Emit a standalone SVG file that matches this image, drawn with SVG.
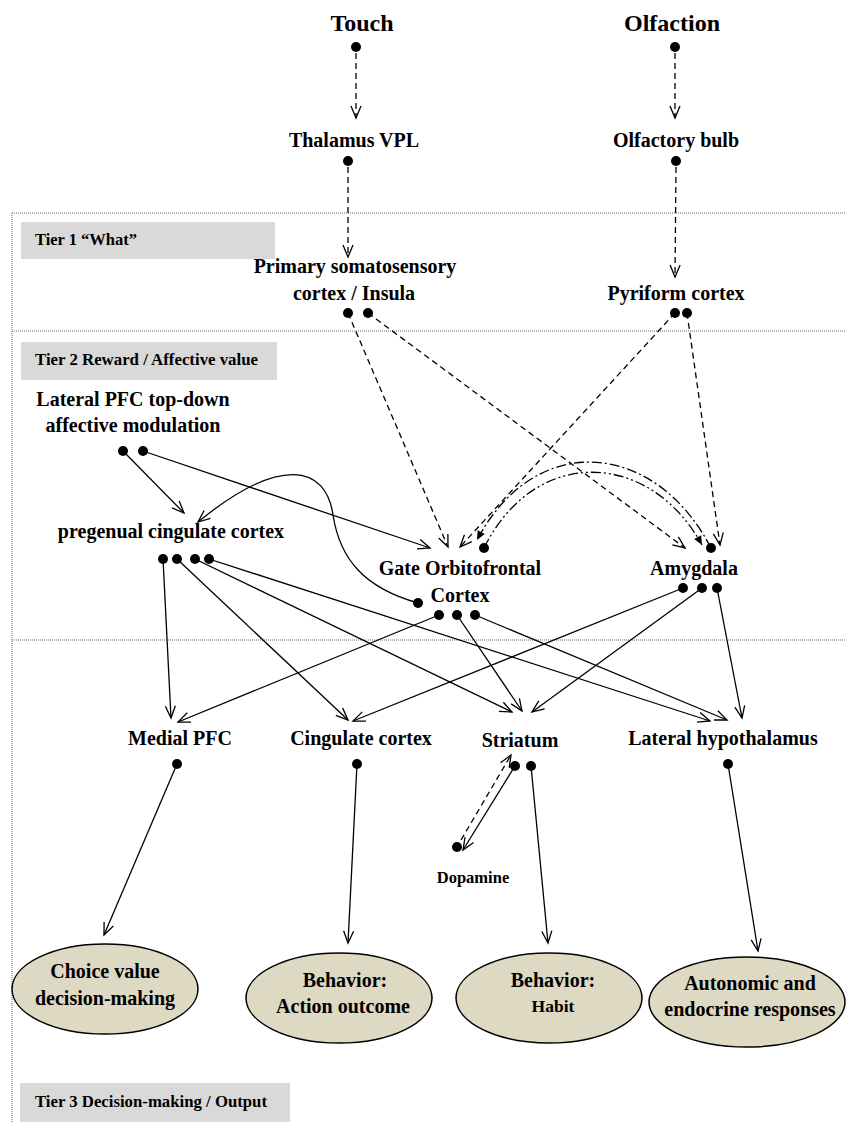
<svg xmlns="http://www.w3.org/2000/svg" width="846" height="1122" viewBox="0 0 846 1122">
<style>
text{font-family:"Liberation Serif","Times New Roman",serif;font-weight:bold;fill:#000;text-anchor:middle}
.lbl{font-size:20px}
.big{font-size:24px}
.tier{font-size:16px;text-anchor:start}
.tbox{fill:#d9d9d9}
.sep{stroke:#666;stroke-width:1;stroke-dasharray:1,1;fill:none}
.dot{fill:#000}
.c{fill:none;stroke:#000;stroke-width:1.3}
.s{marker-end:url(#open)}
.d{stroke-dasharray:6,4;marker-end:url(#open)}
.dd{stroke-dasharray:10,3,2,3;marker-end:url(#fill)}
.ddd{stroke-dasharray:10,3,2,3,2,3;marker-end:url(#fill)}
.ell{fill:#ddd9c3;stroke:#000;stroke-width:1.5}
</style>
<defs>
<marker id="open" viewBox="-14 -7 16 14" refX="0" refY="0" markerWidth="16" markerHeight="14" markerUnits="userSpaceOnUse" orient="auto">
<path d="M-12,-5 L0,0 L-12,5" fill="none" stroke="#000" stroke-width="1.3"/>
</marker>
<marker id="fill" viewBox="-10 -5 12 10" refX="0" refY="0" markerWidth="12" markerHeight="10" markerUnits="userSpaceOnUse" orient="auto">
<path d="M-9,-4 L0,0 L-9,4 z" fill="#000"/>
</marker>
</defs>
<rect width="846" height="1122" fill="#fff"/>

<g id="frame">
<line class="sep" x1="12" y1="213" x2="12" y2="1122"/>
<line class="sep" x1="12" y1="213" x2="846" y2="213"/>
<line class="sep" x1="12" y1="331" x2="846" y2="331"/>
<line class="sep" x1="12" y1="640" x2="846" y2="640"/>
</g>

<g id="tier1"><rect class="tbox" x="21" y="222" width="254" height="37"/><text class="tier" x="35" y="245" textLength="102" lengthAdjust="spacingAndGlyphs">Tier 1 “What”</text></g>
<g id="tier2"><rect class="tbox" x="21" y="342" width="256" height="38"/><text class="tier" x="35" y="365" textLength="223" lengthAdjust="spacingAndGlyphs">Tier 2  Reward / Affective value</text></g>
<g id="tier3"><rect class="tbox" x="20" y="1083" width="270" height="39"/><text class="tier" x="35" y="1107" textLength="232" lengthAdjust="spacingAndGlyphs">Tier 3  Decision-making / Output</text></g>

<g id="connectors">
<path class="c d" d="M356,53 L356,118"/>
<path class="c d" d="M675,53 L675,118"/>
<path class="c d" d="M348,167 L348,257"/>
<path class="c d" d="M676,167 L675,277"/>
<path class="c d" d="M348,313 L448,547"/>
<path class="c d" d="M368,313 L685,548"/>
<path class="c d" d="M675,313 L460,547"/>
<path class="c d" d="M687,313 L720,545"/>
<path class="c d" d="M461,840 L511,755"/>
<path class="c dd" d="M711,548 C655,440 535,430 477,540"/>
<path class="c ddd" d="M484,548 C535,445 650,450 702,545"/>
<path class="c s" d="M123,451 L184,513"/>
<path class="c s" d="M143,451 L430,548"/>
<path class="c s" d="M418,603 C365,588 340,560 333,515 C326,465 280,455 198,522"/>
<path class="c s" d="M163,559 L171,718"/>
<path class="c s" d="M177,559 L348,720"/>
<path class="c s" d="M195,559 L512,712"/>
<path class="c s" d="M209,559 L710,721"/>
<path class="c s" d="M439,615 L178,722"/>
<path class="c s" d="M457,615 L522,711"/>
<path class="c s" d="M475,615 L727,720"/>
<path class="c s" d="M683,588 L353,721"/>
<path class="c s" d="M702,588 L532,712"/>
<path class="c s" d="M717,588 L742,718"/>
<path class="c s" d="M515,766 L463,850"/>
<path class="c s" d="M177,764 L104,935"/>
<path class="c s" d="M357,764 L348,943"/>
<path class="c s" d="M531,766 L548,943"/>
<path class="c s" d="M728,764 L758,951"/>
</g>

<g id="touch"><text class="big" x="362" y="31">Touch</text><circle class="dot" cx="356" cy="47" r="5"/></g>
<g id="olfaction"><text class="big" x="672" y="31">Olfaction</text><circle class="dot" cx="675" cy="47" r="5"/></g>
<g id="thalamus"><text class="lbl" x="354" y="147">Thalamus VPL</text><circle class="dot" cx="348" cy="161" r="5"/></g>
<g id="olfbulb"><text class="lbl" x="676" y="147">Olfactory bulb</text><circle class="dot" cx="676" cy="161" r="5"/></g>
<g id="somato"><text class="lbl" x="355" y="273">Primary somatosensory</text><text class="lbl" x="354" y="300">cortex / Insula</text><circle class="dot" cx="348" cy="313" r="5"/><circle class="dot" cx="368" cy="313" r="5"/></g>
<g id="pyriform"><text class="lbl" x="676" y="300">Pyriform cortex</text><circle class="dot" cx="675" cy="313" r="5"/><circle class="dot" cx="687" cy="313" r="5"/></g>
<g id="lpfc"><text class="lbl" x="133" y="406">Lateral PFC top-down</text><text class="lbl" x="133" y="432">affective modulation</text><circle class="dot" cx="123" cy="451" r="5"/><circle class="dot" cx="143" cy="451" r="5"/></g>
<g id="pregenual"><text class="lbl" x="171" y="538">pregenual cingulate cortex</text><circle class="dot" cx="163" cy="559" r="5"/><circle class="dot" cx="177" cy="559" r="5"/><circle class="dot" cx="195" cy="559" r="5"/><circle class="dot" cx="209" cy="559" r="5"/></g>
<g id="ofc"><text class="lbl" x="460" y="575">Gate Orbitofrontal</text><text class="lbl" x="460" y="602">Cortex</text><circle class="dot" cx="418" cy="603" r="5"/><circle class="dot" cx="484" cy="548" r="5"/><circle class="dot" cx="439" cy="615" r="5"/><circle class="dot" cx="457" cy="615" r="5"/><circle class="dot" cx="475" cy="615" r="5"/></g>
<g id="amygdala"><text class="lbl" x="694" y="575">Amygdala</text><circle class="dot" cx="711" cy="548" r="5"/><circle class="dot" cx="683" cy="588" r="5"/><circle class="dot" cx="702" cy="588" r="5"/><circle class="dot" cx="717" cy="588" r="5"/></g>
<g id="medialpfc"><text class="lbl" x="180" y="745">Medial PFC</text><circle class="dot" cx="177" cy="764" r="5"/></g>
<g id="cingulate"><text class="lbl" x="361" y="745">Cingulate cortex</text><circle class="dot" cx="357" cy="764" r="5"/></g>
<g id="striatum"><text class="lbl" x="520" y="747">Striatum</text><circle class="dot" cx="515" cy="766" r="5"/><circle class="dot" cx="531" cy="766" r="5"/></g>
<g id="lh"><text class="lbl" x="723" y="745">Lateral hypothalamus</text><circle class="dot" cx="728" cy="764" r="5"/></g>
<g id="dopamine"><circle class="dot" cx="457" cy="847" r="5"/><text x="473" y="883" style="font-size:16.5px">Dopamine</text></g>

<g id="choice"><ellipse class="ell" cx="105" cy="989" rx="93" ry="45"/><text class="lbl" x="105" y="978">Choice value</text><text class="lbl" x="105" y="1005">decision-making</text></g>
<g id="action"><ellipse class="ell" cx="339" cy="998" rx="93" ry="45"/><text class="lbl" x="345" y="987">Behavior:</text><text class="lbl" x="343" y="1013">Action outcome</text></g>
<g id="habit"><ellipse class="ell" cx="549" cy="998" rx="93" ry="45"/><text class="lbl" x="553" y="987">Behavior:</text><text x="553" y="1012" style="font-size:17.5px">Habit</text></g>
<g id="autonomic"><ellipse class="ell" cx="747" cy="1002" rx="98" ry="45"/><text class="lbl" x="750" y="990">Autonomic and</text><text class="lbl" x="750" y="1016">endocrine responses</text></g>
</svg>
